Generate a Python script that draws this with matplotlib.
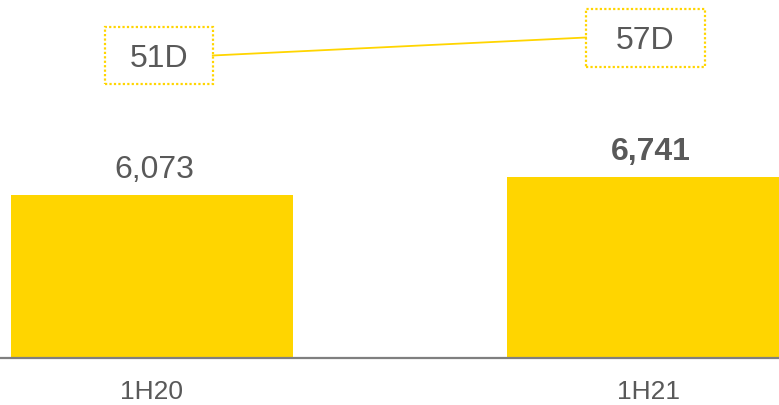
import matplotlib.pyplot as plt
from matplotlib.patches import Rectangle
import numpy as np

periods = ['1H20', '1H21']
revenue = [6073, 6741]
days = ['51D', '57D']

plt.rcParams['font.family'] = ['Liberation Sans', 'DejaVu Sans']

W, H = 779, 405
fig = plt.figure(figsize=(W / 100, H / 100), dpi=100)
ax = fig.add_axes([0, 47 / H, 1, 358 / H])

yellow = '#FFD500'
grey = '#595959'

ind = np.arange(len(periods))
ax.bar(ind, revenue, 0.569, color=yellow, zorder=2)

ax.set_xlim(-0.306, 1.264)
ax.set_ylim(0, 13338)

for s in ['top', 'right', 'left']:
    ax.spines[s].set_visible(False)
ax.spines['bottom'].set_color('#7f7f7f')
ax.spines['bottom'].set_linewidth(1.6)
ax.set_yticks([])
ax.set_xticks(ind)
ax.set_xticklabels(periods, fontsize=19, color=grey)
ax.tick_params(axis='x', length=0, pad=16)

# value labels, latest period in bold
for i, v in enumerate(revenue):
    ax.text(i + 0.005, v + 380, f'{v:,}', ha='center', va='bottom', fontsize=23,
            color=grey, fontweight='bold' if i == len(revenue) - 1 else 'normal')

# days boxes, sizes in pixels converted to data units
px_x = (1.264 + 0.306) / W
px_y = 13338 / 358
box_w = [108, 119]
box_h = [57, 58]
box_cx = [0.014, 0.995]
box_cy = [(358 - 55.5) * px_y, (358 - 37.5) * px_y]
for d, cx, cy, bw, bh in zip(days, box_cx, box_cy, box_w, box_h):
    ax.add_patch(Rectangle((cx - bw * px_x / 2, cy - bh * px_y / 2), bw * px_x, bh * px_y,
                           fill=False, edgecolor=yellow, linestyle=(0, (1, 1)),
                           linewidth=1.6, clip_on=False, zorder=3))
    ax.text(cx, cy, d, ha='center', va='center_baseline', fontsize=23, color=grey, zorder=4)

# connector between the two boxes
ax.plot([box_cx[0] + box_w[0] * px_x / 2, box_cx[1] - box_w[1] * px_x / 2],
        [box_cy[0], box_cy[1]], color=yellow, linewidth=1.3, clip_on=False, zorder=3)

fig.savefig('out.png', dpi=100)
